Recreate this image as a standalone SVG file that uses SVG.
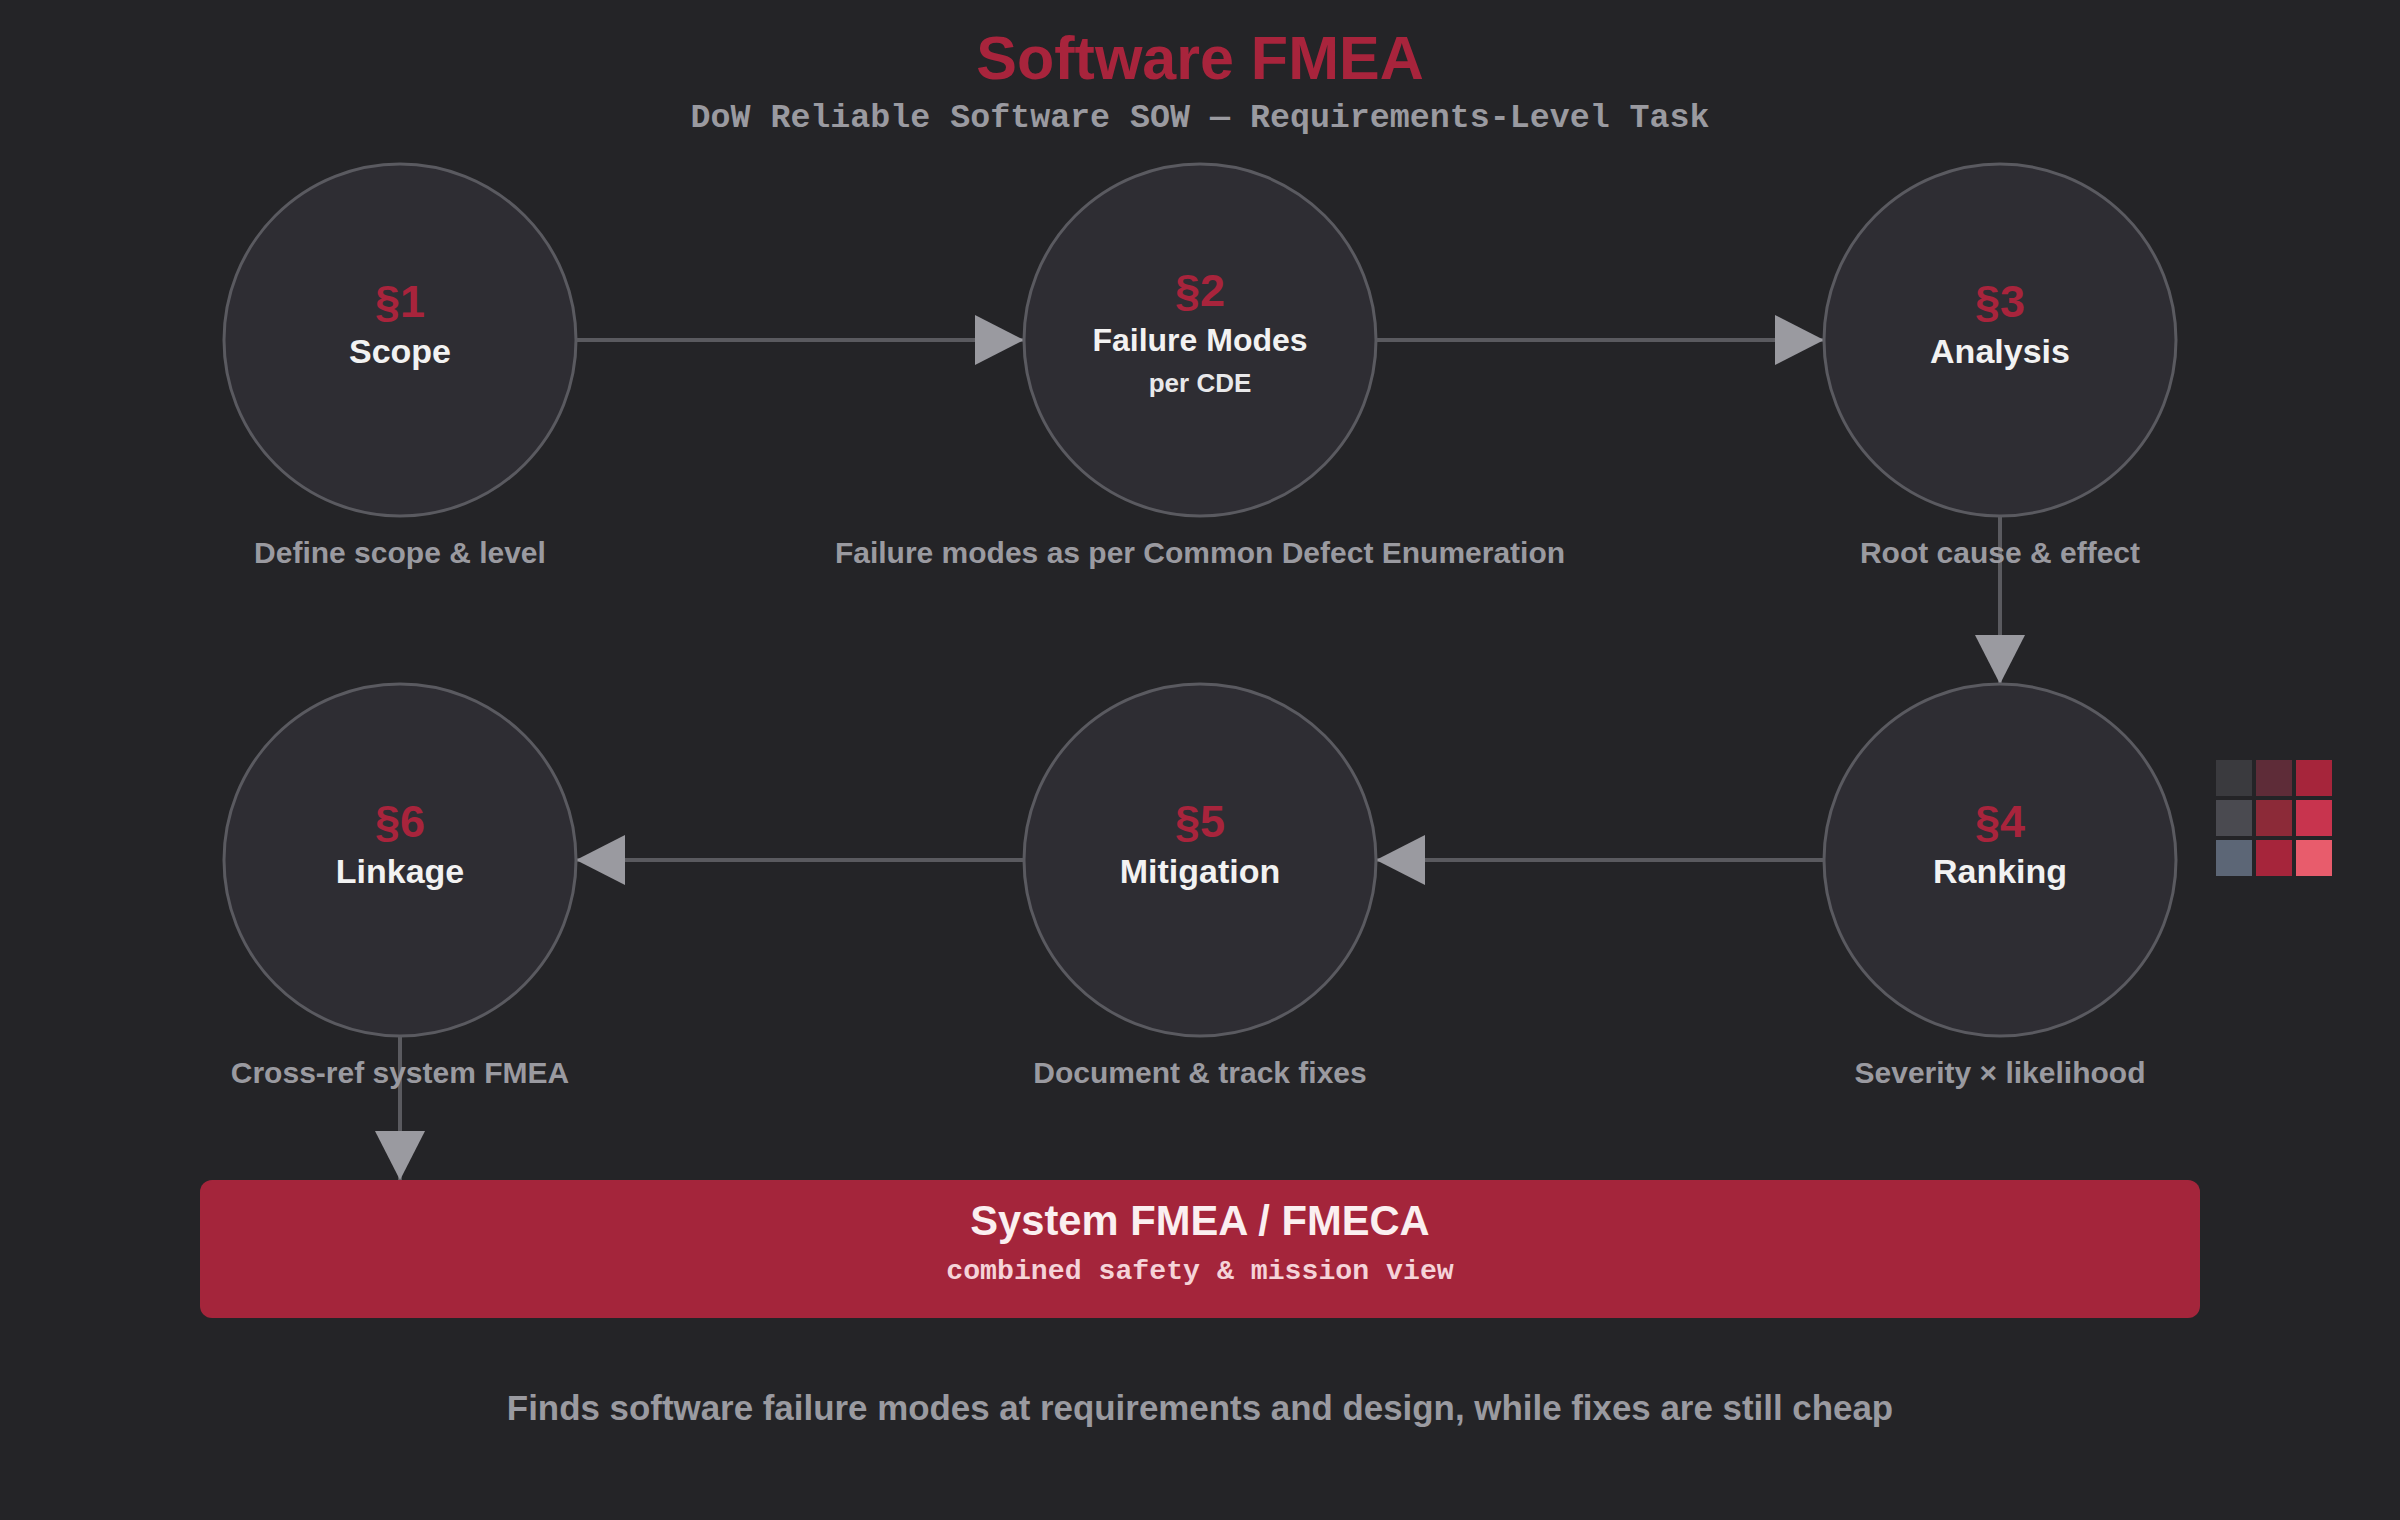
<svg xmlns="http://www.w3.org/2000/svg" width="2400" height="1520" viewBox="0 0 2400 1520">
<style>
.bg{fill:#242427}
.node{fill:#2e2d33;stroke:#5a5a60;stroke-width:3}
.sec{font-family:"Liberation Sans",Arial,sans-serif;font-weight:bold;font-size:45px;fill:#a8243c;text-anchor:middle}
.name{font-family:"Liberation Sans",Arial,sans-serif;font-weight:bold;font-size:34px;fill:#f2f2f2;text-anchor:middle}
.name3{font-family:"Liberation Sans",Arial,sans-serif;font-weight:bold;font-size:32px;fill:#f2f2f2;text-anchor:middle}
.sub{font-family:"Liberation Sans",Arial,sans-serif;font-weight:bold;font-size:26px;fill:#e8e8ea;text-anchor:middle}
.cap{font-family:"Liberation Sans",Arial,sans-serif;font-weight:bold;font-size:30px;fill:#9a9aa0;text-anchor:middle}
.conn{stroke:#5a5a5f;stroke-width:4;fill:none}
</style>
<defs>
<marker id="arr" markerUnits="userSpaceOnUse" markerWidth="49" markerHeight="50" refX="49" refY="25" orient="auto">
<path d="M0,0 L49,25 L0,50 Z" fill="#9a9aa0"/>
</marker>
</defs>
<rect class="bg" x="0" y="0" width="2400" height="1520"/>
<text x="1200" y="79" font-family="'Liberation Sans',Arial,sans-serif" font-weight="bold" font-size="61" fill="#a8243c" text-anchor="middle">Software FMEA</text>
<text x="1200" y="127" font-family="'Liberation Mono','Courier New',monospace" font-weight="bold" font-size="33.3" fill="#9a9aa0" text-anchor="middle">DoW Reliable Software SOW — Requirements-Level Task</text>
<g id="connectors">
<line class="conn" x1="576" y1="340" x2="1024" y2="340" marker-end="url(#arr)"/>
<line class="conn" x1="1376" y1="340" x2="1824" y2="340" marker-end="url(#arr)"/>
<line class="conn" x1="2000" y1="516" x2="2000" y2="684" marker-end="url(#arr)"/>
<line class="conn" x1="1824" y1="860" x2="1376" y2="860" marker-end="url(#arr)"/>
<line class="conn" x1="1024" y1="860" x2="576" y2="860" marker-end="url(#arr)"/>
<line class="conn" x1="400" y1="1036" x2="400" y2="1180" marker-end="url(#arr)"/>
</g>
<g id="node1">
<circle class="node" cx="400" cy="340" r="176"/>
<text class="sec" x="400" y="317">§1</text>
<text class="name" x="400" y="363">Scope</text>
<text class="cap" x="400" y="563">Define scope &amp; level</text>
</g>
<g id="node2">
<circle class="node" cx="1200" cy="340" r="176"/>
<text class="sec" x="1200" y="306">§2</text>
<text class="name3" x="1200" y="351">Failure Modes</text>
<text class="sub" x="1200" y="392">per CDE</text>
<text class="cap" x="1200" y="563">Failure modes as per Common Defect Enumeration</text>
</g>
<g id="node3">
<circle class="node" cx="2000" cy="340" r="176"/>
<text class="sec" x="2000" y="317">§3</text>
<text class="name" x="2000" y="363">Analysis</text>
<text class="cap" x="2000" y="563">Root cause &amp; effect</text>
</g>
<g id="node4">
<circle class="node" cx="2000" cy="860" r="176"/>
<text class="sec" x="2000" y="837">§4</text>
<text class="name" x="2000" y="883">Ranking</text>
<text class="cap" x="2000" y="1083">Severity × likelihood</text>
</g>
<g id="node5">
<circle class="node" cx="1200" cy="860" r="176"/>
<text class="sec" x="1200" y="837">§5</text>
<text class="name" x="1200" y="883">Mitigation</text>
<text class="cap" x="1200" y="1083">Document &amp; track fixes</text>
</g>
<g id="node6">
<circle class="node" cx="400" cy="860" r="176"/>
<text class="sec" x="400" y="837">§6</text>
<text class="name" x="400" y="883">Linkage</text>
<text class="cap" x="400" y="1083">Cross-ref system FMEA</text>
</g>
<g id="palette">
<rect x="2216" y="760" width="36" height="36" fill="#3a3a3e"/>
<rect x="2256" y="760" width="36" height="36" fill="#5e2c38"/>
<rect x="2296" y="760" width="36" height="36" fill="#a6253b"/>
<rect x="2216" y="800" width="36" height="36" fill="#4a4a50"/>
<rect x="2256" y="800" width="36" height="36" fill="#8c2a38"/>
<rect x="2296" y="800" width="36" height="36" fill="#c8344e"/>
<rect x="2216" y="840" width="36" height="36" fill="#5c6676"/>
<rect x="2256" y="840" width="36" height="36" fill="#a6253b"/>
<rect x="2296" y="840" width="36" height="36" fill="#e85c6c"/>
</g>
<g id="system">
<rect x="200" y="1180" width="2000" height="138" rx="12" fill="#a4253b"/>
<text x="1200" y="1235" font-family="'Liberation Sans',Arial,sans-serif" font-weight="bold" font-size="41.7" fill="#fbeff0" text-anchor="middle">System FMEA / FMECA</text>
<text x="1200" y="1279" font-family="'Liberation Mono','Courier New',monospace" font-weight="bold" font-size="28.2" fill="#f5d3d8" text-anchor="middle">combined safety &amp; mission view</text>
</g>
<text x="1200" y="1420" font-family="'Liberation Sans',Arial,sans-serif" font-weight="bold" font-size="34.9" fill="#9a9aa0" text-anchor="middle">Finds software failure modes at requirements and design, while fixes are still cheap</text>
</svg>
